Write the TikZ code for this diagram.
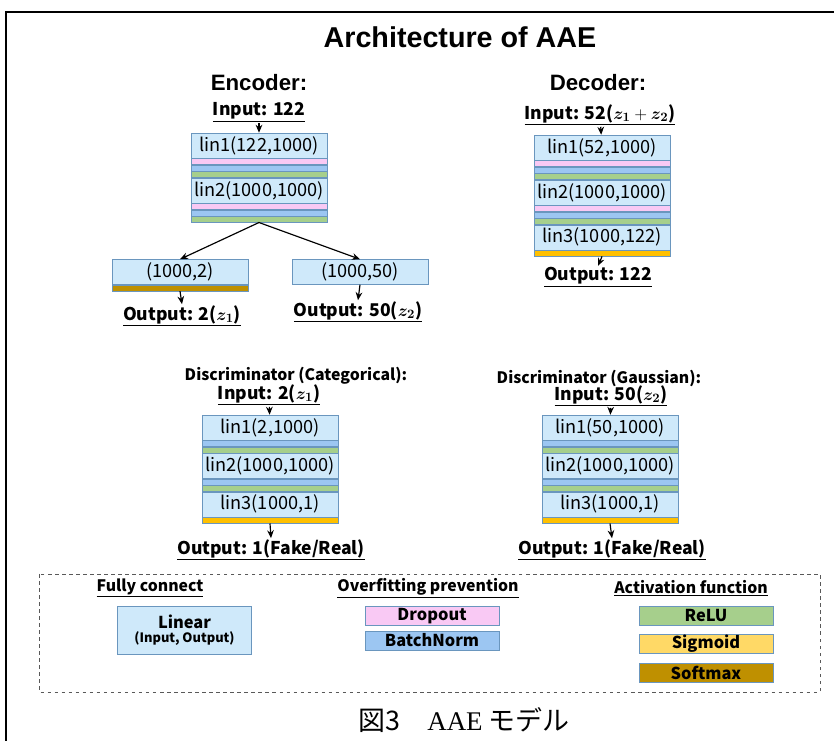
\documentclass[tikz,border=0pt]{standalone}
\usepackage{bm}
\usepackage{fontspec}
\setmainfont{Noto Sans CJK JP}
\newfontfamily\headfont{Liberation Sans}
\newfontfamily\capserif{Liberation Serif}
\usetikzlibrary{arrows.meta,positioning}
\definecolor{linfill}{HTML}{CFE9FA}
\definecolor{linedge}{HTML}{6A96BE}
\definecolor{dropc}{HTML}{F9C9F4}
\definecolor{bnc}{HTML}{9CC6F2}
\definecolor{reluc}{HTML}{A6CF8C}
\definecolor{sigc}{HTML}{FFC000}
\definecolor{sigleg}{HTML}{FFD966}
\definecolor{softc}{HTML}{BF9000}
\newcommand{\fs}[1]{\fontsize{#1}{#1}\selectfont}
\newcommand{\zz}[1]{\bm{z}_{\bm{#1}}}

\begin{document}
\begin{tikzpicture}[x=0.03cm,y=-0.03cm,
  lin/.style={draw=linedge,fill=linfill,minimum width=4.08cm,minimum height=0.75cm,inner sep=0pt,font=\fs{15.5}},
  bar/.style={draw=linedge,minimum width=4.08cm,minimum height=0.18cm,inner sep=0pt},
  drop/.style={bar,fill=dropc},
  bn/.style={bar,fill=bnc},
  relu/.style={bar,fill=reluc},
  sig/.style={bar,fill=sigc},
  soft/.style={bar,fill=softc},
  head/.style={font=\headfont\bfseries\fs{19}},
  io/.style={font=\bfseries\fs{15},inner sep=1pt},
  sub/.style={font=\bfseries\fs{13.5},inner sep=1pt},
  hd/.style={font=\bfseries\fs{13.5},inner sep=1pt},
  leg/.style={draw=linedge,minimum width=4.02cm,minimum height=0.58cm,inner sep=0pt,font=\bfseries\fs{14}},
  arr/.style={-{Stealth[length=2.4mm,width=2mm]},line width=1pt}]
  \useasboundingbox (0,0) rectangle (834,741);
  \draw[line width=1.6pt] (6,741) -- (6,12) -- (834,12);
  \node[font=\headfont\bfseries\fs{24.5}] (title) at (460,37) {Architecture of AAE};
  % encoder
  \node[head] (enc) at (259,83) {Encoder:};
  \node[io] (ein) at (259,112) {\underline{Input: 122}};
  \node[lin] (e1) at (259,145.5) {lin1(122,1000)};
  \node[drop,below=0pt of e1] (e1d) {};
  \node[bn,below=0pt of e1d] (e1b) {};
  \node[relu,below=0pt of e1b] (e1r) {};
  \node[lin,below=0pt of e1r] (e2) {lin2(1000,1000)};
  \node[drop,below=0pt of e2] (e2d) {};
  \node[bn,below=0pt of e2d] (e2b) {};
  \node[relu,below=0pt of e2b] (e2r) {};
  \node[lin] (c1) at (180,272) {(1000,2)};
  \node[soft,below=0pt of c1] (c1s) {};
  \node[lin] (c2) at (360,272) {(1000,50)};
  \node[io] (eo1) at (182,316) {\underline{Output: 2($\zz1$)}};
  \node[io] (eo2) at (358,312) {\underline{Output: 50($\zz2$)}};
  \draw[arr] (ein) -- (e1);
  \draw[arr] (e2r.south) -- (c1.north);
  \draw[arr] (e2r.south) -- (c2.north);
  \draw[arr] (c1s.south) -- (eo1.north);
  \draw[arr] (c2.south) -- (eo2.north);
  % decoder
  \node[head] (dec) at (598,83) {Decoder:};
  \node[io] (din) at (600,115) {\underline{Input: 52($\zz1+\zz2$)}};
  \node[lin] (d1) at (602,147.5) {lin1(52,1000)};
  \node[drop,below=0pt of d1] (d1d) {};
  \node[bn,below=0pt of d1d] (d1b) {};
  \node[relu,below=0pt of d1b] (d1r) {};
  \node[lin,below=0pt of d1r] (d2) {lin2(1000,1000)};
  \node[drop,below=0pt of d2] (d2d) {};
  \node[bn,below=0pt of d2d] (d2b) {};
  \node[relu,below=0pt of d2b] (d2r) {};
  \node[lin,below=0pt of d2r] (d3) {lin3(1000,122)};
  \node[sig,below=0pt of d3] (d3s) {};
  \node[io] (dout) at (598,277) {\underline{Output: 122}};
  \draw[arr] (din) -- (d1);
  \draw[arr] (d3s.south) -- (dout.north);
  % discriminators
  \node[sub] (dcat) at (296,376) {Discriminator (Categorical):};
  \node[io] (cin) at (269,395) {\underline{Input: 2($\zz1$)}};
  \node[lin] (k1) at (270,427.5) {lin1(2,1000)};
  \node[bn,below=0pt of k1] (k1b) {};
  \node[relu,below=0pt of k1b] (k1r) {};
  \node[lin,below=0pt of k1r] (k2) {lin2(1000,1000)};
  \node[bn,below=0pt of k2] (k2b) {};
  \node[relu,below=0pt of k2b] (k2r) {};
  \node[lin,below=0pt of k2r] (k3) {lin3(1000,1)};
  \node[sig,below=0pt of k3] (k3s) {};
  \node[io] (cout) at (271,550) {\underline{Output: 1(Fake/Real)}};
  \draw[arr] (cin) -- (k1);
  \draw[arr] (k3s.south) -- (cout.north);
  \node[sub] (dgau) at (599,378) {Discriminator (Gaussian):};
  \node[io] (gin) at (611,396) {\underline{Input: 50($\zz2$)}};
  \node[lin] (g1) at (610,427.5) {lin1(50,1000)};
  \node[bn,below=0pt of g1] (g1b) {};
  \node[relu,below=0pt of g1b] (g1r) {};
  \node[lin,below=0pt of g1r] (g2) {lin2(1000,1000)};
  \node[bn,below=0pt of g2] (g2b) {};
  \node[relu,below=0pt of g2b] (g2r) {};
  \node[lin,below=0pt of g2r] (g3) {lin3(1000,1)};
  \node[sig,below=0pt of g3] (g3s) {};
  \node[io] (gout) at (612,550) {\underline{Output: 1(Fake/Real)}};
  \draw[arr] (gin) -- (g1);
  \draw[arr] (g3s.south) -- (gout.north);
  % legend
  \draw[dashed,black!65,line width=0.8pt] (39,574) rectangle (820,692);
  \node[hd] (hfc) at (150,588) {\underline{Fully connect}};
  \node[hd] (hov) at (428,588) {\underline{Overfitting prevention}};
  \node[hd] (hac) at (691,588) {\underline{Activation function}};
  \node[leg,fill=linfill,minimum height=1.44cm,align=center] (llin) at (184.5,630) {Linear\\[-2pt]{\fs{11}(Input, Output)}};
  \node[leg,fill=dropc] (ldrop) at (432,616) {Dropout};
  \node[leg,fill=bnc] (lbn) at (432,640.5) {BatchNorm};
  \node[leg,fill=reluc] (lrelu) at (706,615.5) {ReLU};
  \node[leg,fill=sigleg] (lsig) at (706,644) {Sigmoid};
  \node[leg,fill=softc] (lsoft) at (706,672.5) {Softmax};
  % caption
  \node[font=\fs{23}] (cap) at (464,720) {図3\hspace{1em}{\capserif AAE} モデル};
\end{tikzpicture}
\end{document}
